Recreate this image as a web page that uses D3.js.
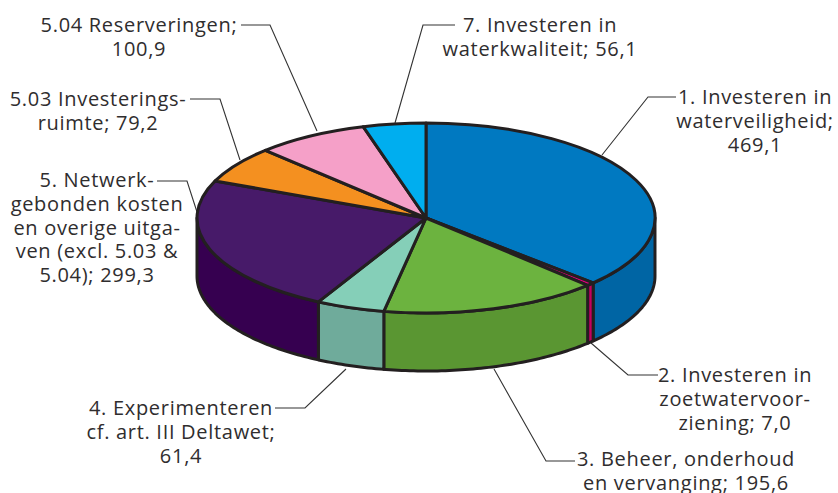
<!DOCTYPE html>
<html>
<head>
<meta charset="utf-8">
<script src="https://cdn.jsdelivr.net/npm/d3@7"></script>
<style>
  html, body { margin: 0; padding: 0; background: #fff; }
  svg { display: block; }
  text { font-family: "Open Sans", sans-serif; font-size: 20px; letter-spacing: 0.7px; fill: #2f2d2e; text-anchor: middle; }
</style>
</head>
<body>
<svg id="drawing_region"></svg>
<script>
const categories = [
  "1. Investeren in waterveiligheid",
  "2. Investeren in zoetwatervoorziening",
  "3. Beheer, onderhoud en vervanging",
  "4. Experimenteren cf. art. III Deltawet",
  "5. Netwerkgebonden kosten en overige uitgaven",
  "5.03 Investeringsruimte",
  "5.04 Reserveringen",
  "7. Investeren in waterkwaliteit"
];
const values = [469.1, 7.0, 195.6, 61.4, 299.3, 79.2, 100.9, 56.1];
const labelLines = [
  ["1. Investeren in", "waterveiligheid;", "469,1"],
  ["2. Investeren in", "zoetwatervoor-", "ziening; 7,0"],
  ["3. Beheer, onderhoud", "en vervanging; 195,6"],
  ["4. Experimenteren", "cf. art. III Deltawet;", "61,4"],
  ["5. Netwerk-", "gebonden kosten", "en overige uitga-", "ven (excl. 5.03 &", "5.04); 299,3"],
  ["5.03 Investerings-", "ruimte; 79,2"],
  ["5.04 Reserveringen;", "100,9"],
  ["7. Investeren in", "waterkwaliteit; 56,1"]
];
const topColors = ["#0079c1", "#e5007d", "#6cb33f", "#85cfb8", "#471a69", "#f49020", "#f5a0c8", "#00aeef"];
const sideColors = ["#0065a4", "#c4005f", "#5a9632", "#6fab9b", "#360050", "#f49020", "#f5a0c8", "#00aeef"];

// label placement: text centre x, first line centre y, leader polyline
const labelPos = [
  {x: 755, y: 97,  leader: [[602, 155], [648, 97], [676, 97]]},
  {x: 735, y: 375, leader: [[591, 343], [628, 375], [658, 375]]},
  {x: 686, y: 459, leader: [[494, 369], [546, 461], [575, 461]]},
  {x: 181, y: 408, leader: [[346, 369], [305, 408], [275, 408]]},
  {x: 97,  y: 180, leader: [[197, 212], [187, 181], [157, 181]]},
  {x: 98,  y: 99,  leader: [[240, 160], [220, 99], [190, 99]]},
  {x: 139, y: 25,  leader: [[317, 131], [270, 25], [241, 25]]},
  {x: 540, y: 25,  leader: [[395, 123], [423, 25], [455, 25]]}
];

const width = 838, height = 493;
const cx = 426, cy = 218, rx = 229, ry = 95, depth = 58;
const lineHeight = 23.8;
const edge = "#231f20";

const svg = d3.select("#drawing_region").attr("width", width).attr("height", height);

// leader lines go under the pie
svg.append("g").selectAll("path")
  .data(labelPos)
  .join("path")
  .attr("d", d => d3.line()(d.leader))
  .attr("fill", "none")
  .attr("stroke", "#333")
  .attr("stroke-width", 1.1);

const slices = d3.pie().sort(null).value(d => d)(values);

// point on the tilted rim, angle measured clockwise from the top
const rim = (a, drop) => [cx + rx * Math.sin(a), cy - ry * Math.cos(a) + drop];

function wallPath(d) {
  const a0 = Math.max(d.startAngle, Math.PI / 2);
  const a1 = Math.min(d.endAngle, Math.PI * 1.5);
  if (a1 <= a0) return null;
  const steps = d3.range(a0, a1, Math.PI / 180).concat([a1]);
  const pts = steps.map(a => rim(a, 0)).concat(steps.slice().reverse().map(a => rim(a, depth)));
  return d3.line()(pts) + "Z";
}

svg.append("g").selectAll("path")
  .data(slices.filter(d => wallPath(d)))
  .join("path")
  .attr("d", wallPath)
  .attr("fill", d => sideColors[d.index])
  .attr("stroke", edge)
  .attr("stroke-width", 3)
  .attr("stroke-linejoin", "round");

const arc = d3.arc().innerRadius(0).outerRadius(rx);

svg.append("g")
  .attr("transform", `translate(${cx},${cy}) scale(1,${ry / rx})`)
  .selectAll("path")
  .data(slices)
  .join("path")
  .attr("d", arc)
  .attr("fill", d => topColors[d.index])
  .attr("stroke", edge)
  .attr("stroke-width", 3)
  .attr("stroke-linejoin", "round")
  .attr("vector-effect", "non-scaling-stroke");

const labels = svg.append("g").selectAll("text")
  .data(labelLines)
  .join("text")
  .attr("transform", (d, i) => `translate(${labelPos[i].x},${labelPos[i].y})`);

labels.selectAll("tspan")
  .data(d => d)
  .join("tspan")
  .attr("x", 0)
  .attr("y", (d, i) => i * lineHeight)
  .attr("dy", "0.35em")
  .text(d => d);
</script>
</body>
</html>
